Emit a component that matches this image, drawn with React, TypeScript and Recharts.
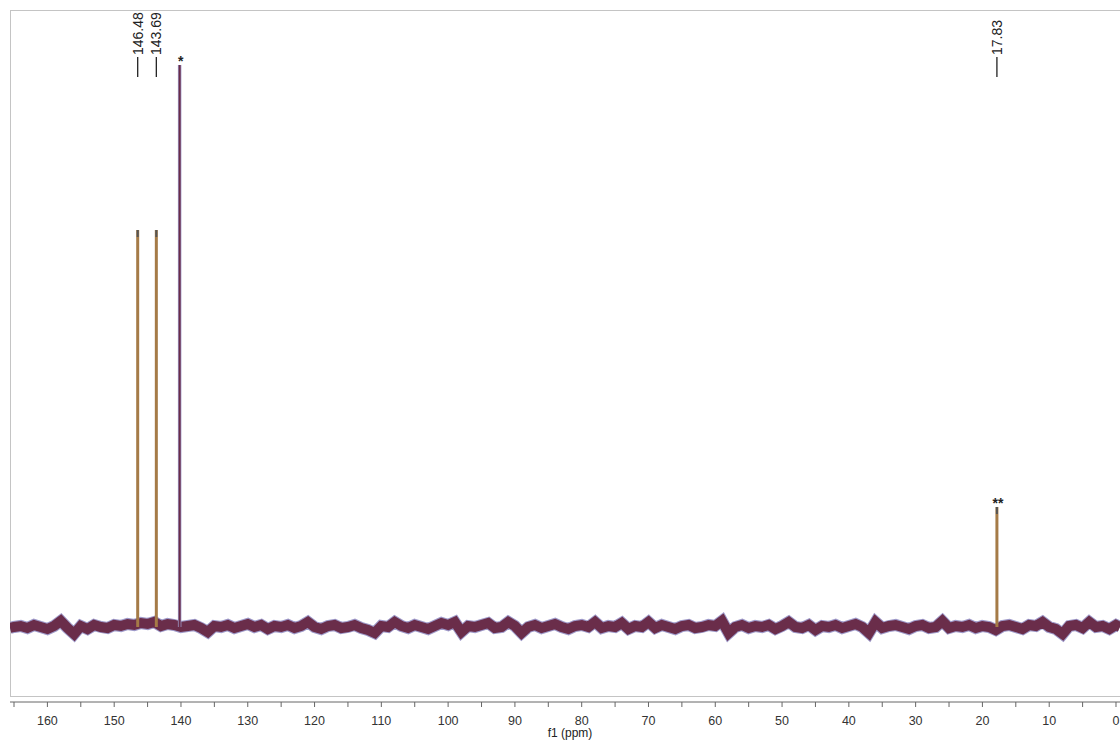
import { LineChart, Line, XAxis, YAxis, ReferenceDot } from "recharts";

// chemical shift axis (ppm), high field to the right
const xTicks = [
  0, 5, 10, 15, 20, 25, 30, 35, 40, 45, 50, 55, 60, 65, 70, 75, 80, 85,
  90, 95, 100, 105, 110, 115, 120, 125, 130, 135, 140, 145, 150, 155, 160, 165,
];

// baseline noise, one reading per ppm from 165.6 down to -0.6
const basePpm = [
  165.6, 165, 164, 163, 162, 161, 160, 159, 158, 157, 156, 155, 154, 153, 152, 151, 150,
  149, 148, 147, 146, 145, 144, 143, 142, 141, 140, 139, 138, 137, 136, 135, 134,
  133, 132, 131, 130, 129, 128, 127, 126, 125, 124, 123, 122, 121, 120, 119, 118,
  117, 116, 115, 114, 113, 112, 111, 110, 109, 108, 107, 106, 105, 104, 103, 102,
  101, 100, 99, 98, 97, 96, 95, 94, 93, 92, 91, 90, 89, 88, 87, 86, 85, 84, 83,
  82, 81, 80, 79, 78, 77, 76, 75, 74, 73, 72, 71, 70, 69, 68, 67, 66, 65, 64, 63,
  62, 61, 60, 59, 58, 57, 56, 55, 54, 53, 52, 51, 50, 49, 48, 47, 46, 45, 44, 43,
  42, 41, 40, 39, 38, 37, 36, 35, 34, 33, 32, 31, 30, 29, 28, 27, 26, 25, 24, 23,
  22, 21, 20, 19, 18, 17, 16, 15, 14, 13, 12, 11, 10, 9, 8, 7, 6, 5, 4, 3, 2, 1, 0, -0.6,
];
const baseVal = [
  -1, 0, 1, -1, 2, 0, -2, 1, 6, -1, -7, 1, -2, 2, 0, -1, 2,
  1, 3, 2, 4, 3, 5, 1, 3, 2, 0, 1, 2, -1, -5, 1, 0,
  2, -1, 1, 3, 0, 2, -2, 1, 0, 2, -1, 1, 5, 0, -2, 1,
  2, -1, 0, 2, -1, -3, -6, 1, 0, 5, 1, -1, 2, 0, -2, 1,
  4, 2, 5, -5, 1, 0, 2, 4, -1, 0, 5, 1, -6, 0, 2, -1, 1, 3, 0,
  -2, 1, 2, 0, 5, -1, 1, 0, 4, -2, 1, 0, 5, -1, 2, 0, -2, 1, 2, -1,
  0, 2, 1, 6, -6, 0, 2, -1, 1, 0, 2, -2, 1, 5, 0, -1, 2, -3, 1, 0,
  2, -1, 1, 3, 0, -6, 5, -1, 1, 2, 0, -2, 1, 2, -1, 0, 6, -1, 1, 0,
  2, -1, 1, 0, -3, 1, 2, 0, -2, 2, 1, 5, 0, -2, -7, 1, 2, -1, 5, 0, 1, -2, 2, 0,
];

// peaks
const peakPpm = [146.48, 143.69, 140.2, 17.83];
const peakHeight = [397, 397, 562, 120];
const peakLabels = ["146.48", "143.69", "", "17.83"];
const peakMarks = ["", "", "*", "**"];

const baseline = basePpm.map((ppm, i) => ({ ppm, v: baseVal[i] }));
const peakData = peakPpm.map((ppm, i) => [
  { ppm, v: 0 },
  { ppm, v: peakHeight[i] },
]);
const tipData = peakPpm.map((ppm, i) => [
  { ppm, v: peakHeight[i] - 7 },
  { ppm, v: peakHeight[i] },
]);

const TAN = "#A57B47";
const MAROON = "#6A2D4A";
const LAVENDER = "#9F9AC9";
const FONT = "'Liberation Sans', Arial, sans-serif";

const labelShape = (text: string) => (props: any) => {
  const { cx, cy } = props;
  return (
    <g>
      <line x1={cx} x2={cx} y1={cy} y2={cy - 20} stroke="#222" strokeWidth={1.3} />
      <text
        transform={`translate(${cx},${cy - 22}) rotate(-90)`}
        textAnchor="start"
        dominantBaseline="central"
        fontSize={14}
        fontFamily={FONT}
        fill="#222"
      >
        {text}
      </text>
    </g>
  );
};

const markShape = (text: string) => (props: any) => {
  const { cx, cy } = props;
  return (
    <text x={cx + 1} y={cy + 1} textAnchor="middle" fontSize={14} fontWeight="bold" fontFamily={FONT} fill="#222">
      {text}
    </text>
  );
};

export default function App() {
  return (
    <div style={{ position: "absolute", left: 0, top: 0, width: 1120, height: 740, overflow: "hidden", background: "#fff" }}>
      {/* frame */}
      <div
        style={{
          position: "absolute",
          left: 10,
          top: 10,
          width: 1130,
          height: 687,
          border: "1px solid #C4C4C4",
          boxSizing: "border-box",
        }}
      />
      <div style={{ position: "absolute", left: 0, top: 0 }}>
        <LineChart width={1120} height={740} margin={{ top: 10, right: 0, left: 10, bottom: 0 }}>
          <XAxis
            type="number"
            dataKey="ppm"
            domain={[-0.6, 165.6]}
            allowDataOverflow
            reversed
            ticks={xTicks}
            interval={0}
            height={38}
            tickSize={5}
            tickMargin={9}
            stroke="#666"
            tick={{ fill: "#333", fontSize: 12.5, fontFamily: FONT }}
            tickFormatter={(v: number) => (v % 10 === 0 ? String(v) : "")}
            label={{ value: "f1 (ppm)", position: "insideBottom", offset: 3, dx: 5, fill: "#222", fontSize: 12, fontFamily: FONT }}
          />
          <YAxis hide type="number" domain={[-75, 617]} allowDataOverflow />

          <Line data={baseline} dataKey="v" type="linear" stroke={LAVENDER} strokeWidth={12} dot={false} isAnimationActive={false} />
          <Line data={baseline} dataKey="v" type="linear" stroke={MAROON} strokeWidth={10} dot={false} isAnimationActive={false} />

          {peakData.map((d, i) => (
            <Line
              key={"pl" + i}
              data={d}
              dataKey="v"
              stroke={i === 2 ? LAVENDER : TAN}
              strokeWidth={i === 2 ? 3.5 : 3}
              dot={false}
              isAnimationActive={false}
            />
          ))}
          <Line data={peakData[2]} dataKey="v" stroke={MAROON} strokeWidth={2} dot={false} isAnimationActive={false} />
          {tipData.map((d, i) =>
            i === 2 ? null : (
              <Line key={"tp" + i} data={d} dataKey="v" stroke="#555" strokeWidth={2} dot={false} isAnimationActive={false} />
            )
          )}

          {peakPpm.map((p, i) =>
            peakLabels[i] ? (
              <ReferenceDot key={"lb" + i} x={p} y={550} r={0} shape={labelShape("" + peakLabels[i])} />
            ) : null
          )}
          {peakPpm.map((p, i) =>
            peakMarks[i] ? (
              <ReferenceDot key={"mk" + i} x={p} y={peakHeight[i]} r={0} shape={markShape(peakMarks[i])} />
            ) : null
          )}
        </LineChart>
      </div>
    </div>
  );
}
